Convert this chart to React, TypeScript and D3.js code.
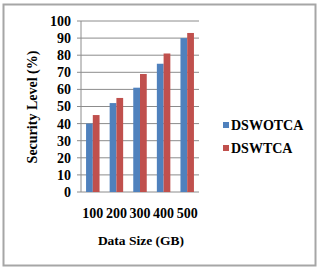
import React from "react";
import * as d3 from "d3";

const categories = ["100", "200", "300", "400", "500"];
const seriesNames = ["DSWOTCA", "DSWTCA"];
const dswotca = [40, 52, 61, 75, 90];
const dswtca = [45, 55, 69, 81, 93];
const yTicks = [0, 10, 20, 30, 40, 50, 60, 70, 80, 90, 100];
const colors = ["#4f81bd", "#c0504d"];

const W = 319;
const H = 269;
const plot = { left: 81, right: 199, top: 21, bottom: 192 };
const font = "'Liberation Serif', 'Times New Roman', serif";

const App = () => {
  const x = d3.scaleBand().domain(categories).range([plot.left, plot.right]);
  const y = d3.scaleLinear().domain([0, 100]).range([plot.bottom, plot.top]);
  const barW = x.step() / 3.5;
  const series = [dswotca, dswtca];

  return (
    <svg
      width={W}
      height={H}
      style={{ position: "absolute", left: 0, top: 0, background: "#fff" }}
      fontFamily={font}
      fontWeight="bold"
    >
      <rect x={3.5} y={4.5} width={312} height={261} fill="#fff" stroke="#a6a6a6" strokeWidth={2} />

      {yTicks.map(t => (
        <g key={t}>
          <line x1={plot.left - 4} x2={plot.right} y1={y(t)} y2={y(t)} stroke="#8c8c8c" strokeWidth={1} />
          <text x={71} y={y(t)} dy="0.35em" textAnchor="end" fontSize={14}>{t}</text>
        </g>
      ))}
      <line x1={plot.left} x2={plot.left} y1={plot.top} y2={plot.bottom} stroke="#8c8c8c" />

      {series.map((vals, si) =>
        vals.map((v, i) => {
          const cx = x(categories[i])! + x.step() / 2;
          return (
            <rect
              key={si + "-" + i}
              x={cx - barW + si * barW}
              y={y(v)}
              width={barW}
              height={y(0) - y(v)}
              fill={colors[si]}
            />
          );
        })
      )}

      {categories.map(c => (
        <text key={c} x={x(c)! + x.step() / 2} y={218} textAnchor="middle" fontSize={14}>{c}</text>
      ))}

      <text transform={`translate(32,107) rotate(-90)`} textAnchor="middle" dy="0.35em" fontSize={14}>
        Security Level (%)
      </text>
      <text x={141} y={245} textAnchor="middle" fontSize={13.5}>Data Size (GB)</text>

      {seriesNames.map((n, i) => (
        <g key={n} transform={`translate(223,${125 + i * 23})`}>
          <rect x={0} y={-3} width={6} height={6} fill={colors[i]} />
          <text x={8} y={0} dy="0.35em" fontSize={14}>{n}</text>
        </g>
      ))}
    </svg>
  );
};

export default App;
